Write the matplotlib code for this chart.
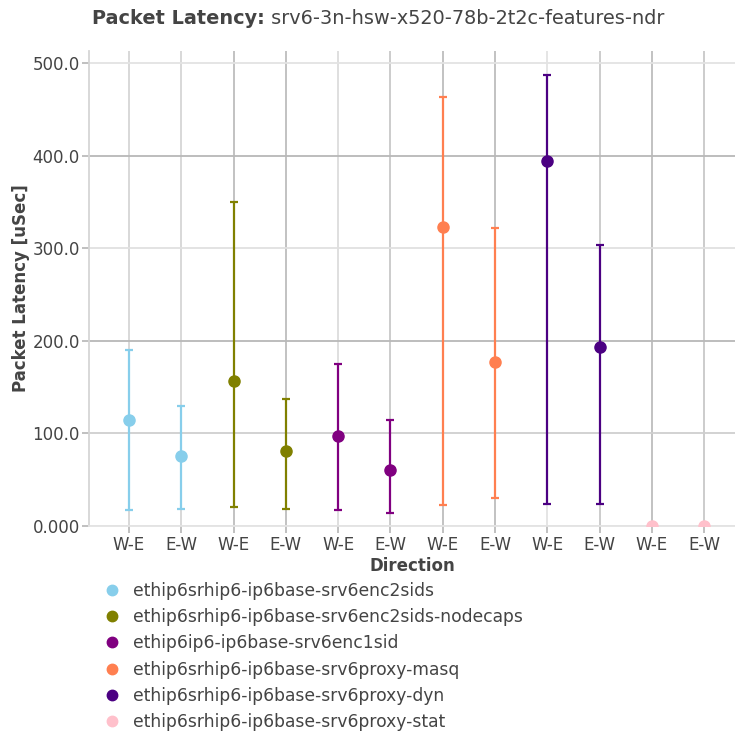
import matplotlib
matplotlib.use("Agg")
import matplotlib.pyplot as plt
from matplotlib.lines import Line2D
import numpy as np

plt.rcParams['font.family'] = ['DejaVu Sans']

directions = ["W-E", "E-W"]
series_names = [
    "ethip6srhip6-ip6base-srv6enc2sids",
    "ethip6srhip6-ip6base-srv6enc2sids-nodecaps",
    "ethip6ip6-ip6base-srv6enc1sid",
    "ethip6srhip6-ip6base-srv6proxy-masq",
    "ethip6srhip6-ip6base-srv6proxy-dyn",
    "ethip6srhip6-ip6base-srv6proxy-stat",
]
series_colors = ["#87ceeb", "#808000", "#800080", "#ff7f50", "#4b0082", "#ffc0cb"]

# avg, max, min latency per direction (W-E, E-W)
avg_lat = [
    [115.0, 76.0],
    [157.0, 81.0],
    [97.0, 60.5],
    [323.0, 177.0],
    [394.5, 193.0],
    [0.0, 0.0],
]
max_lat = [
    [190.5, 130.0],
    [349.5, 137.0],
    [175.5, 114.0],
    [463.5, 322.0],
    [487.5, 304.0],
    [0.0, 0.0],
]
min_lat = [
    [17.0, 18.5],
    [20.5, 18.5],
    [17.0, 14.0],
    [22.5, 30.5],
    [23.5, 23.5],
    [0.0, 0.0],
]

y_ticks = [0, 100, 200, 300, 400, 500]
y_tick_labels = ["0.000", "100.0", "200.0", "300.0", "400.0", "500.0"]

title_bold = "Packet Latency:"
title_rest = "srv6-3n-hsw-x520-78b-2t2c-features-ndr"

TXT = "#444444"
fig = plt.figure(figsize=(7.35, 7.34), dpi=100)
ax = fig.add_axes([89/735, 1-526/734, 1-89/735, (526-51)/734])

n = len(series_names)
xpos = np.arange(n * len(directions))

# gridlines
vcols = ["#d6d6d6", "#d6d6d6", "#bdbdbd", "#bdbdbd", "#dcdcdc", "#c8c8c8",
         "#bdbdbd", "#bdbdbd", "#e3e3e3", "#c8c8c8", "#bdbdbd", "#c8c8c8"]
for x, c in zip(xpos, vcols):
    ax.axvline(x, color=c, lw=1.3, zorder=0)
hcols = ["#e3e3e3", "#cfcfcf", "#b8b8b8", "#e0e0e0", "#b8b8b8", "#e3e3e3"]
for y, c in zip(y_ticks, hcols):
    ax.axhline(y, color=c, lw=1.3, zorder=0)

handles = []
for i in range(n):
    xs = xpos[2*i:2*i+2]
    avg = np.array(avg_lat[i])
    hi = np.array(max_lat[i]) - avg
    lo = avg - np.array(min_lat[i])
    if np.any(hi > 0) or np.any(lo > 0):
        ax.errorbar(xs, avg, yerr=[lo, hi], fmt='none', ecolor=series_colors[i],
                    elinewidth=1.6, capsize=3, capthick=1.6, zorder=3)
    ax.plot(xs, avg, 'o', color=series_colors[i], markersize=8, zorder=4,
            clip_on=True)
    handles.append(Line2D([], [], marker='o', ls='none', color=series_colors[i],
                          markersize=7.5))

ax.set_xlim(-0.765, 11.59)
ax.set_ylim(0, 513)
ax.set_xticks(xpos)
ax.set_xticklabels(directions * n)
ax.set_yticks(y_ticks)
ax.set_yticklabels(y_tick_labels)
ax.tick_params(axis='both', colors="#bbbbbb", labelcolor=TXT, labelsize=12,
               length=5, width=1.3)
ax.tick_params(axis='x', pad=2)
ax.tick_params(axis='y', pad=1.5)
for s in ["top", "right"]:
    ax.spines[s].set_visible(False)
ax.spines["left"].set_color("#d6d6d6")
ax.spines["bottom"].set_color("#e3e3e3")
ax.spines["left"].set_linewidth(1.3)
ax.spines["bottom"].set_linewidth(1.3)

ax.set_xlabel("Direction", fontsize=12, fontweight='bold', color=TXT, labelpad=2.5)
ax.set_ylabel("Packet Latency [uSec]", fontsize=12, fontweight='bold', color=TXT,
              labelpad=2)

# title: bold prefix + regular rest, laid out side by side
fig.canvas.draw()
r = fig.canvas.get_renderer()
ty = 1 - 18/734
tb = fig.text(0, ty, title_bold, ha='left', va='center', fontsize=13.9,
              fontweight='bold', color=TXT)
tr = fig.text(0, ty, " " + title_rest, ha='left', va='center', fontsize=13.9,
              color=TXT)
wb = tb.get_window_extent(r).width / 735
wr = tr.get_window_extent(r).width / 735
x0 = 0.515 - (wb + wr) / 2
tb.set_x(x0)
tr.set_x(x0 + wb)

ax.legend(handles, series_names, loc='upper left',
          bbox_to_anchor=(103/735, 1-582/734), bbox_transform=fig.transFigure,
          frameon=False, fontsize=12.3, labelcolor=TXT, handlelength=1.0,
          handletextpad=0.74, labelspacing=0.48, borderpad=0, borderaxespad=0)

fig.savefig("out.png", dpi=100)
